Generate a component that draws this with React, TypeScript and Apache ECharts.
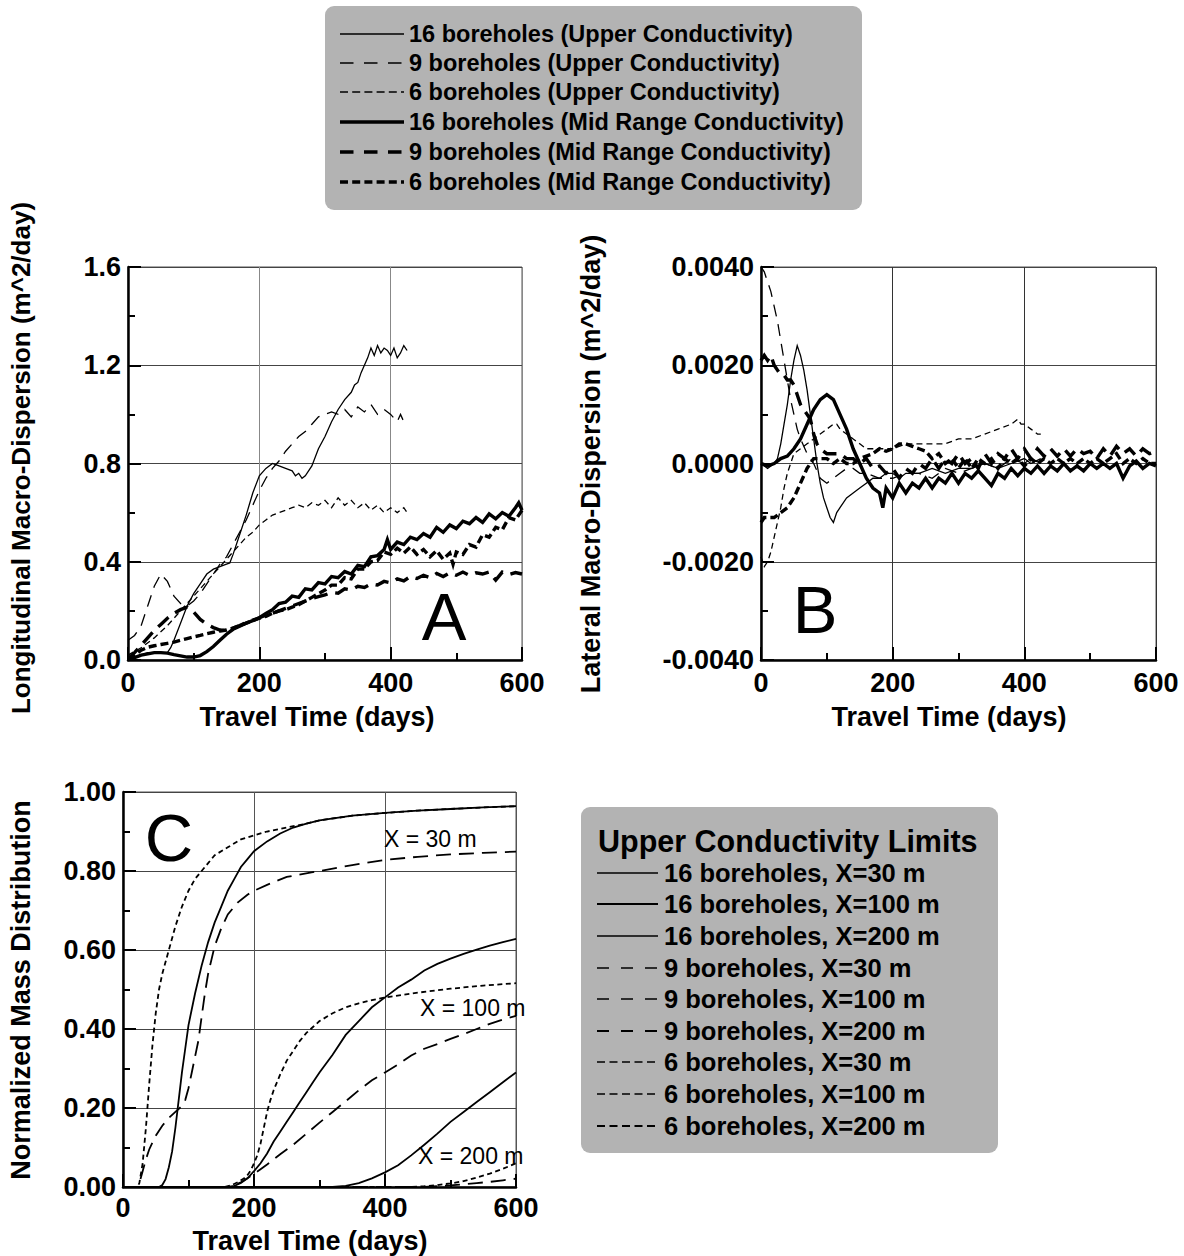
import React, { useEffect, useRef } from "react";
import * as echarts from "echarts";

const FONT = "'Liberation Sans', Arial, Helvetica, sans-serif";

type Pt = [number, number];

// ---------------- Panel A: Longitudinal macro-dispersion (m^2/day) ----------------
const a16Upper: Pt[] = [[0,0],[10,0.01],[20,0.02],[30,0.03],[40,0.03],[50,0.03],[60,0.03],[65,0.05],[70,0.08],[80,0.15],[90,0.22],[100,0.27],[110,0.31],[120,0.35],[130,0.37],[140,0.38],[150,0.39],[155,0.395],[160,0.43],[170,0.51],[180,0.59],[190,0.68],[200,0.75],[210,0.78],[220,0.8],[230,0.79],[240,0.78],[250,0.77],[255,0.75],[260,0.76],[265,0.74],[270,0.75],[280,0.79],[290,0.86],[300,0.91],[310,0.97],[320,1.02],[330,1.06],[340,1.09],[345,1.12],[350,1.13],[355,1.17],[360,1.2],[365,1.23],[370,1.27],[375,1.24],[380,1.28],[385,1.25],[390,1.27],[395,1.26],[400,1.24],[405,1.27],[410,1.23],[415,1.25],[420,1.28],[425,1.26]];
const a9Upper: Pt[] = [[0,0.08],[10,0.1],[20,0.14],[30,0.22],[40,0.3],[50,0.35],[60,0.32],[70,0.26],[80,0.23],[90,0.22],[100,0.24],[110,0.27],[120,0.31],[130,0.35],[140,0.39],[150,0.42],[160,0.47],[170,0.52],[180,0.57],[190,0.63],[200,0.69],[210,0.74],[220,0.78],[230,0.81],[240,0.85],[250,0.88],[260,0.91],[270,0.93],[280,0.96],[290,0.99],[300,1.0],[310,1.01],[320,1.0],[330,1.02],[340,0.99],[350,1.03],[360,1.01],[370,1.04],[380,1.0],[390,1.02],[400,1.0],[410,0.97],[415,1.0],[420,0.97],[425,0.98]];
const a6Upper: Pt[] = [[0,0.02],[20,0.05],[40,0.09],[60,0.14],[80,0.2],[100,0.26],[120,0.32],[140,0.38],[160,0.44],[170,0.47],[180,0.5],[190,0.52],[200,0.55],[210,0.57],[220,0.59],[230,0.6],[240,0.61],[250,0.62],[260,0.63],[270,0.62],[280,0.64],[290,0.63],[300,0.65],[310,0.62],[320,0.66],[330,0.63],[340,0.65],[350,0.62],[360,0.64],[370,0.61],[380,0.63],[390,0.6],[400,0.62],[410,0.6],[420,0.62],[425,0.6]];
const a16Mid: Pt[] = [[0,0],[10,0.01],[20,0.02],[30,0.025],[40,0.03],[50,0.03],[60,0.028],[70,0.022],[80,0.017],[90,0.012],[100,0.012],[110,0.018],[120,0.034],[130,0.055],[140,0.08],[150,0.105],[160,0.125],[170,0.138],[180,0.15],[190,0.16],[200,0.172],[210,0.19],[220,0.205],[230,0.23],[240,0.235],[250,0.26],[260,0.255],[270,0.29],[280,0.285],[290,0.315],[300,0.31],[310,0.34],[320,0.335],[330,0.36],[340,0.35],[350,0.385],[360,0.38],[370,0.42],[380,0.425],[390,0.45],[395,0.49],[400,0.45],[410,0.48],[420,0.47],[430,0.5],[440,0.49],[450,0.515],[460,0.5],[470,0.54],[480,0.52],[490,0.55],[500,0.535],[510,0.565],[520,0.555],[530,0.58],[540,0.56],[550,0.595],[560,0.575],[570,0.6],[580,0.585],[590,0.62],[595,0.64],[600,0.61]];
const a9Mid: Pt[] = [[0,0.005],[10,0.03],[20,0.06],[30,0.09],[40,0.12],[50,0.145],[60,0.17],[70,0.19],[80,0.205],[90,0.215],[100,0.195],[110,0.165],[120,0.145],[130,0.132],[140,0.122],[150,0.12],[160,0.13],[170,0.14],[180,0.152],[190,0.162],[200,0.172],[210,0.183],[220,0.19],[230,0.2],[240,0.21],[250,0.22],[260,0.23],[270,0.24],[280,0.25],[290,0.258],[300,0.265],[310,0.275],[320,0.272],[330,0.29],[340,0.285],[350,0.3],[360,0.295],[370,0.31],[380,0.305],[390,0.32],[400,0.314],[410,0.33],[420,0.322],[430,0.34],[440,0.332],[450,0.345],[460,0.335],[470,0.352],[480,0.34],[490,0.355],[500,0.345],[510,0.358],[520,0.345],[530,0.355],[540,0.35],[550,0.358],[560,0.325],[570,0.358],[580,0.348],[590,0.356],[600,0.35]];
const a6Mid: Pt[] = [[0,0.005],[10,0.02],[20,0.04],[30,0.052],[40,0.058],[50,0.063],[60,0.068],[70,0.073],[80,0.08],[90,0.087],[100,0.094],[110,0.1],[120,0.107],[130,0.113],[140,0.118],[150,0.122],[160,0.13],[170,0.14],[180,0.15],[190,0.16],[200,0.17],[210,0.178],[220,0.19],[230,0.2],[240,0.205],[250,0.215],[260,0.225],[270,0.24],[280,0.255],[290,0.27],[300,0.285],[310,0.305],[320,0.305],[330,0.335],[340,0.33],[350,0.37],[360,0.37],[370,0.4],[380,0.405],[390,0.44],[400,0.43],[410,0.455],[420,0.435],[430,0.46],[440,0.43],[450,0.45],[460,0.42],[470,0.445],[480,0.41],[490,0.435],[495,0.39],[500,0.44],[510,0.43],[520,0.47],[530,0.46],[540,0.51],[550,0.5],[560,0.54],[570,0.53],[580,0.58],[590,0.57],[600,0.61]];

// ---------------- Panel B: Lateral macro-dispersion (m^2/day) ----------------
const b16Upper: Pt[] = [[0,0],[10,-0.0001],[20,0],[25,0.0001],[30,0.0004],[35,0.0008],[40,0.0012],[45,0.0017],[50,0.0021],[55,0.0024],[60,0.0022],[65,0.0019],[70,0.0015],[75,0.001],[80,0.0005],[85,0],[90,-0.0004],[95,-0.0007],[100,-0.0009],[105,-0.0011],[110,-0.0012],[115,-0.001],[120,-0.0009],[130,-0.0007],[140,-0.0006],[150,-0.0005],[160,-0.0004],[170,-0.0003],[180,-0.0003],[190,-0.0002],[200,-0.0002],[210,-0.0003],[220,-0.0002],[240,-0.0002],[260,-0.0001],[280,-0.0002],[300,-0.0001],[320,-0.0001],[340,0],[360,-0.0001],[380,0],[400,0.0001],[410,0],[425,0.0001]];
const b9Upper: Pt[] = [[0,0.004],[5,0.0039],[10,0.0037],[15,0.0035],[20,0.0032],[25,0.0029],[30,0.0025],[35,0.0021],[40,0.0017],[45,0.0013],[50,0.001],[55,0.0007],[60,0.0005],[70,0.0002],[80,0],[90,-0.0003],[100,-0.0004],[110,-0.0003],[120,-0.0002],[130,-0.0001],[140,-0.0001],[150,-0.0002],[160,-0.0002],[180,-0.0003],[200,-0.0003],[220,-0.0002],[240,-0.0002],[260,-0.0003],[280,-0.0001],[300,-0.0002],[320,-0.0001],[340,0],[360,-0.0001],[380,0.0001],[400,0],[410,0.0001],[425,0]];
const b6Upper: Pt[] = [[0,-0.0019],[5,-0.0021],[10,-0.002],[15,-0.0018],[20,-0.0015],[25,-0.0012],[30,-0.0009],[35,-0.0005],[40,-0.0002],[45,0],[50,0.0002],[60,0.0003],[70,0.0004],[80,0.0005],[90,0.0006],[100,0.0007],[110,0.0008],[115,0.0008],[120,0.0007],[130,0.0006],[140,0.0005],[150,0.0004],[160,0.0003],[170,0.0003],[180,0.0003],[200,0.0003],[220,0.0004],[240,0.0004],[260,0.0004],[280,0.0004],[300,0.0005],[320,0.0005],[340,0.0006],[360,0.0007],[380,0.0008],[390,0.0009],[395,0.0008],[400,0.0008],[410,0.0007],[420,0.0006],[425,0.0006]];
const b16Mid: Pt[] = [[0,0],[10,-0.00005],[20,0],[30,0.0001],[40,0.00015],[50,0.0003],[60,0.0005],[70,0.0008],[80,0.0011],[90,0.0013],[100,0.0014],[105,0.00135],[110,0.0013],[120,0.001],[130,0.0007],[140,0.0003],[150,0],[160,-0.0003],[170,-0.0005],[180,-0.0006],[185,-0.0009],[190,-0.0005],[200,-0.0007],[210,-0.0004],[220,-0.0006],[230,-0.0004],[240,-0.0005],[250,-0.0003],[260,-0.0005],[270,-0.0003],[280,-0.0004],[290,-0.0002],[300,-0.0004],[310,-0.0002],[320,-0.0003],[330,-0.00015],[340,-0.0003],[350,-0.00045],[360,-0.0002],[370,-0.0003],[380,-0.0001],[390,-0.00025],[400,-0.0001],[410,-0.0002],[420,-0.00005],[430,-0.0002],[440,-0.00005],[450,-0.00015],[460,0],[470,-0.00015],[480,-0.00005],[490,-0.00015],[500,0],[510,-0.0001],[520,0],[530,-0.0001],[540,0],[550,-0.0003],[560,-0.00005],[570,0.00005],[580,-0.0001],[590,0],[600,-0.00005]];
const b9Mid: Pt[] = [[0,0.0021],[5,0.0022],[10,0.0021],[15,0.0022],[20,0.002],[25,0.0019],[30,0.0018],[35,0.0018],[40,0.0017],[45,0.0017],[50,0.0016],[55,0.0014],[60,0.0012],[65,0.0011],[70,0.001],[75,0.0009],[80,0.0006],[85,0.0004],[90,0.0003],[100,0.0002],[110,0.0002],[120,0.0002],[130,0.0001],[140,0.0001],[150,0],[160,0.0001],[170,-0.0001],[180,-0.00005],[190,-0.0002],[200,-0.0001],[210,-0.0003],[220,-0.0001],[230,-0.0002],[240,0],[250,-0.0001],[260,0.0001],[270,-0.0001],[280,0.0001],[290,0],[300,0.0002],[310,0],[320,0.0001],[330,-0.0001],[340,0.0002],[350,0],[360,0.0002],[370,0.0001],[380,0.0003],[390,0.0001],[400,0.0003],[410,0.0001],[420,0.0003],[430,0.00015],[440,0.0003],[450,0.00015],[460,0.0003],[470,0.00015],[480,0.0003],[490,0.0002],[500,0.00025],[510,0.0001],[520,0.0003],[530,0.00015],[540,0.00035],[550,0.0002],[560,0.0003],[570,0.00015],[580,0.0003],[590,0.0002],[600,0.00025]];
const b6Mid: Pt[] = [[0,-0.0012],[5,-0.0011],[10,-0.0011],[20,-0.0011],[30,-0.001],[40,-0.0009],[50,-0.0007],[60,-0.0004],[70,-0.0001],[80,0.0001],[90,0.0001],[100,0.0001],[110,0],[120,0.0001],[130,0],[140,0],[150,0.0001],[160,0.00015],[170,0.0002],[180,0.0003],[190,0.00025],[200,0.0003],[210,0.0004],[220,0.0004],[230,0.00035],[240,0.0003],[250,0.00025],[260,0.0001],[270,0.0002],[280,0],[290,0.0001],[300,-0.0001],[310,0.0001],[320,-0.0001],[330,0.0001],[340,0],[350,0.0001],[360,-0.0001],[370,0.0001],[380,0],[390,0.0001],[400,-0.00005],[410,0.0001],[420,0],[430,0.0001],[440,0],[450,0.0001],[460,0],[470,0.0001],[480,0],[490,0.0001],[500,0],[510,0.0001],[520,0],[530,0.0001],[540,0.0002],[550,0],[560,0.0001],[570,0],[580,0.0001],[590,0],[600,0]];

// ---------------- Panel C: Normalized mass distribution ----------------
const c16x30: Pt[] = [[0,0],[55,0],[60,0.005],[65,0.02],[70,0.05],[75,0.09],[80,0.15],[85,0.22],[90,0.29],[95,0.35],[100,0.41],[110,0.49],[120,0.56],[130,0.62],[140,0.67],[150,0.71],[160,0.75],[170,0.78],[180,0.81],[190,0.83],[200,0.85],[220,0.875],[240,0.895],[260,0.91],[280,0.92],[300,0.928],[350,0.94],[400,0.947],[450,0.953],[500,0.957],[550,0.961],[600,0.964]];
const c9x30: Pt[] = [[0,0],[22,0],[25,0.01],[30,0.04],[35,0.07],[40,0.095],[50,0.13],[60,0.155],[70,0.175],[80,0.19],[90,0.205],[95,0.22],[100,0.25],[105,0.29],[110,0.33],[115,0.37],[120,0.43],[125,0.49],[130,0.54],[140,0.61],[150,0.655],[160,0.69],[175,0.72],[190,0.74],[200,0.75],[220,0.765],[250,0.785],[300,0.8],[350,0.815],[400,0.828],[450,0.836],[500,0.842],[550,0.846],[600,0.849]];
const c6x30: Pt[] = [[0,0],[22,0],[25,0.01],[30,0.06],[35,0.15],[40,0.26],[45,0.36],[50,0.44],[55,0.5],[60,0.54],[70,0.6],[80,0.66],[90,0.71],[100,0.75],[110,0.78],[120,0.8],[130,0.82],[140,0.84],[160,0.86],[180,0.88],[200,0.89],[220,0.9],[250,0.91],[280,0.92],[300,0.928],[350,0.94],[400,0.947],[450,0.953],[500,0.957],[550,0.961],[600,0.964]];
const c16x100: Pt[] = [[0,0],[160,0],[170,0.003],[180,0.01],[190,0.022],[200,0.04],[210,0.06],[220,0.085],[230,0.115],[240,0.14],[250,0.165],[260,0.19],[270,0.215],[280,0.24],[290,0.265],[300,0.29],[320,0.335],[340,0.385],[360,0.42],[380,0.455],[400,0.48],[420,0.505],[440,0.525],[460,0.548],[480,0.565],[500,0.578],[520,0.59],[540,0.601],[560,0.611],[580,0.62],[600,0.628]];
const c9x100: Pt[] = [[0,0],[160,0],[170,0.004],[180,0.012],[190,0.022],[200,0.033],[210,0.045],[220,0.057],[230,0.07],[240,0.083],[260,0.107],[280,0.135],[300,0.163],[320,0.19],[340,0.217],[360,0.245],[380,0.27],[400,0.29],[420,0.31],[440,0.333],[460,0.35],[480,0.362],[500,0.375],[520,0.387],[540,0.4],[560,0.413],[580,0.424],[600,0.433]];
const c6x100: Pt[] = [[0,0],[155,0],[165,0.004],[175,0.012],[185,0.022],[190,0.03],[195,0.042],[200,0.06],[205,0.08],[210,0.11],[215,0.15],[220,0.19],[225,0.22],[230,0.245],[240,0.285],[250,0.32],[260,0.345],[270,0.37],[280,0.39],[290,0.405],[300,0.42],[320,0.44],[340,0.455],[360,0.465],[380,0.473],[400,0.48],[450,0.492],[500,0.502],[550,0.51],[600,0.516]];
const c16x200: Pt[] = [[0,0],[320,0],[340,0.003],[360,0.01],[380,0.022],[400,0.037],[420,0.055],[440,0.08],[460,0.107],[480,0.135],[500,0.165],[520,0.19],[540,0.215],[560,0.24],[580,0.265],[600,0.29]];
const c9x200: Pt[] = [[0,0],[460,0],[480,0.002],[500,0.004],[520,0.007],[540,0.01],[560,0.013],[580,0.017],[600,0.021]];
const c6x200: Pt[] = [[0,0],[440,0],[460,0.002],[480,0.005],[500,0.009],[520,0.015],[540,0.024],[560,0.034],[580,0.046],[600,0.06]];

// ---------------- texts ----------------
const topLegendLabels = [
  "16 boreholes (Upper Conductivity)",
  "9 boreholes (Upper Conductivity)",
  "6 boreholes (Upper Conductivity)",
  "16 boreholes (Mid Range Conductivity)",
  "9 boreholes (Mid Range Conductivity)",
  "6 boreholes (Mid Range Conductivity)",
];
const bottomLegendTitle = "Upper Conductivity Limits";
const bottomLegendLabels = [
  "16 boreholes, X=30 m",
  "16 boreholes, X=100 m",
  "16 boreholes, X=200 m",
  "9 boreholes, X=30 m",
  "9 boreholes, X=100 m",
  "9 boreholes, X=200 m",
  "6 boreholes, X=30 m",
  "6 boreholes, X=100 m",
  "6 boreholes, X=200 m",
];
const xTitle = "Travel Time (days)";
const yTitleA = "Longitudinal Macro-Dispersion (m^2/day)";
const yTitleB = "Lateral Macro-Dispersion (m^2/day)";
const yTitleC = "Normalized Mass Distribution";

// ---------------- styles ----------------
const THIN = 1.3;
const THICK = 3.4;
const LONG_THIN = [12, 8];
const SHORT_THIN = [6, 4];
const LONG_THICK = [14, 8];
const SHORT_THICK = [8, 4];
const C_LONG = [15, 8];
const C_SHORT = [5, 3.5];

function line(data: Pt[], idx: number, width: number, dash: any) {
  return {
    type: "line",
    xAxisIndex: idx,
    yAxisIndex: idx,
    data,
    showSymbol: false,
    symbol: "none",
    silent: true,
    clip: true,
    lineStyle: { color: "#000", width, type: dash, join: "miter" },
  };
}

function xAxis(gridIndex: number, margin: number, splitColor: string) {
  return {
    type: "value",
    gridIndex,
    min: 0,
    max: 600,
    interval: 200,
    axisLine: { show: true, onZero: false, lineStyle: { color: "#000", width: 2.5 } },
    axisTick: { show: true, inside: true, length: 13, lineStyle: { color: "#000", width: 2 } },
    minorTick: { show: true, splitNumber: 2, length: 7, lineStyle: { color: "#000", width: 2 } },
    axisLabel: { color: "#000", fontSize: 27, fontWeight: "bold", fontFamily: FONT, margin },
    splitLine: { show: true, lineStyle: { color: splitColor, width: 1 } },
  };
}

function yAxis(gridIndex: number, min: number, max: number, interval: number, digits: number) {
  return {
    type: "value",
    gridIndex,
    min,
    max,
    interval,
    axisLine: { show: true, onZero: false, lineStyle: { color: "#000", width: 2.5 } },
    axisTick: { show: true, inside: true, length: 13, lineStyle: { color: "#000", width: 2 } },
    minorTick: { show: true, splitNumber: 2, length: 7, lineStyle: { color: "#000", width: 2 } },
    axisLabel: {
      color: "#000",
      fontSize: 27,
      fontWeight: "bold",
      fontFamily: FONT,
      margin: 7,
      formatter: (v: number) => (Math.abs(v) < 1e-12 ? (0).toFixed(digits) : v.toFixed(digits)),
    },
    splitLine: { show: true, lineStyle: { color: "#444", width: 1 } },
  };
}

function txt(text: string, x: number, y: number, size: number, weight: string, align: string, rotation = 0) {
  return {
    type: "text",
    x,
    y,
    rotation,
    z: 10,
    style: {
      text,
      fill: "#000",
      fontSize: size,
      fontWeight: weight,
      fontFamily: FONT,
      align,
      verticalAlign: "middle",
    },
  };
}

function seg(x1: number, x2: number, y: number, width: number, dash: any) {
  return {
    type: "line",
    z: 10,
    shape: { x1, y1: y, x2, y2: y },
    style: { stroke: "#000", lineWidth: width, lineDash: dash },
  };
}

function buildGraphics() {
  const g: any[] = [];
  // Top legend
  g.push({ type: "rect", z: 5, shape: { x: 325, y: 6, width: 537, height: 204, r: 9 }, style: { fill: "#b3b3b3" } });
  const topRows = [34, 63, 92, 122, 152, 182];
  const topStyles: [number, any][] = [
    [1.5, null],
    [1.5, [13.5, 10.5]],
    [1.5, [8, 4.2]],
    [3.5, null],
    [3.5, [13.5, 10.5]],
    [3.5, [8, 4.2]],
  ];
  topLegendLabels.forEach((lab, i) => {
    g.push(seg(340, 404, topRows[i], topStyles[i][0], topStyles[i][1]));
    g.push(txt(lab, 409, topRows[i], 23.5, "bold", "left"));
  });

  // Bottom legend
  g.push({ type: "rect", z: 5, shape: { x: 581, y: 807, width: 417, height: 346, r: 9 }, style: { fill: "#b3b3b3" } });
  g.push(txt(bottomLegendTitle, 598, 841, 30.5, "bold", "left"));
  const botRows = [873, 904, 936, 968, 999, 1031, 1062, 1094, 1126];
  const botStyles: [number, any][] = [
    [1.5, null],
    [2, null],
    [1.5, null],
    [1.5, [12, 12]],
    [1.5, [12, 12]],
    [2, [12, 12]],
    [1.5, [8, 4.5]],
    [1.5, [8, 4.5]],
    [2, [8, 4.5]],
  ];
  bottomLegendLabels.forEach((lab, i) => {
    g.push(seg(597, 658, botRows[i], botStyles[i][0], botStyles[i][1]));
    g.push(txt(lab, 664, botRows[i], 25.5, "bold", "left"));
  });

  // Axis titles
  g.push(txt(xTitle, 317, 717, 27, "bold", "center"));
  g.push(txt(xTitle, 949, 717, 27, "bold", "center"));
  g.push(txt(xTitle, 310, 1241, 27, "bold", "center"));
  g.push(txt(yTitleA, 21, 458, 26, "bold", "center", Math.PI / 2));
  g.push(txt(yTitleB, 591, 464, 27, "bold", "center", Math.PI / 2));
  g.push(txt(yTitleC, 21, 990, 27, "bold", "center", Math.PI / 2));

  // Panel letters
  g.push(txt("A", 444, 616, 67, "normal", "center"));
  g.push(txt("B", 815, 609, 67, "normal", "center"));
  g.push(txt("C", 169, 837, 67, "normal", "center"));

  // Panel C annotations
  g.push(txt("X = 30 m", 384, 839, 23, "normal", "left"));
  g.push(txt("X = 100 m", 420, 1008, 23, "normal", "left"));
  g.push(txt("X = 200 m", 418, 1156, 23, "normal", "left"));
  return g;
}

export default function App() {
  const ref = useRef<HTMLDivElement>(null);
  useEffect(() => {
    if (!ref.current) return;
    const chart = echarts.init(ref.current, undefined, { renderer: "svg" });
    const option: any = {
      animation: false,
      backgroundColor: "#fff",
      grid: [
        { left: 128, top: 267, width: 394, height: 393, show: true, borderColor: "#555", borderWidth: 1, containLabel: false },
        { left: 761, top: 267, width: 395, height: 393, show: true, borderColor: "#555", borderWidth: 1, containLabel: false },
        { left: 123, top: 792, width: 393, height: 395, show: true, borderColor: "#555", borderWidth: 1, containLabel: false },
      ],
      xAxis: [xAxis(0, 9, "#888"), xAxis(1, 9, "#333"), xAxis(2, 7, "#555")],
      yAxis: [yAxis(0, 0, 1.6, 0.4, 1), yAxis(1, -0.004, 0.004, 0.002, 4), yAxis(2, 0, 1, 0.2, 2)],
      series: [
        line(a16Upper, 0, THIN, "solid"),
        line(a9Upper, 0, THIN, LONG_THIN),
        line(a6Upper, 0, THIN, SHORT_THIN),
        line(a16Mid, 0, THICK, "solid"),
        line(a9Mid, 0, THICK, LONG_THICK),
        line(a6Mid, 0, THICK, SHORT_THICK),
        line(b16Upper, 1, THIN, "solid"),
        line(b9Upper, 1, THIN, LONG_THIN),
        line(b6Upper, 1, THIN, SHORT_THIN),
        line(b16Mid, 1, THICK, "solid"),
        line(b9Mid, 1, THICK, LONG_THICK),
        line(b6Mid, 1, THICK, SHORT_THICK),
        line(c16x30, 2, 1.8, "solid"),
        line(c16x100, 2, 1.8, "solid"),
        line(c16x200, 2, 1.8, "solid"),
        line(c9x30, 2, 1.8, C_LONG),
        line(c9x100, 2, 1.8, C_LONG),
        line(c9x200, 2, 1.8, C_LONG),
        line(c6x30, 2, 1.8, C_SHORT),
        line(c6x100, 2, 1.8, C_SHORT),
        line(c6x200, 2, 1.8, C_SHORT),
      ],
      graphic: buildGraphics(),
    };
    chart.setOption(option);
    return () => chart.dispose();
  }, []);
  return (
    <div
      ref={ref}
      style={{ position: "absolute", left: 0, top: 0, width: 1184, height: 1256, background: "#fff" }}
    />
  );
}
